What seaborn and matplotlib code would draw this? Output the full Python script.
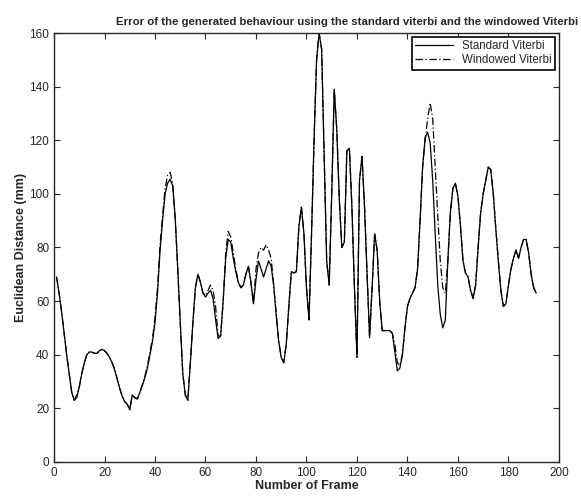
import numpy as np
import pandas as pd
import matplotlib
matplotlib.use("Agg")
import matplotlib.pyplot as plt
import seaborn as sns

# per-frame error (mm)
standard = [
    69, 63, 56, 48, 40, 33, 26, 23, 24, 28,
    33, 37, 40, 41, 41, 40.5, 40.5, 41.5, 42, 41.5,
    40.5, 39, 37, 34.5, 31, 27.5, 24.5, 22.5, 21.5, 19.5,
    25, 24, 23.5, 26, 28.5, 31.5, 35, 40, 45, 52,
    63, 79, 90, 100, 104, 105.5, 103, 91, 72, 52,
    33, 25, 23, 37, 52, 65, 70, 67, 63, 61.5,
    63, 64, 61, 53, 46, 47, 60, 76, 83, 82,
    76, 71, 67, 65, 66, 70, 73, 67, 59, 68,
    75, 72, 69, 72, 75, 73, 66, 55, 45, 39,
    37, 44, 58, 71, 70.5, 71, 88, 95, 85, 65,
    53, 85, 120, 150, 160, 154, 115, 75, 66, 100,
    139, 124, 98, 80, 82, 116, 117, 95, 65, 39,
    105, 114, 95, 70, 47, 65, 85, 79, 60, 49,
    49, 49, 49, 48, 41, 34, 35, 40, 50, 58,
    61, 63, 65, 72, 90, 110, 121, 123, 119, 105,
    85, 66, 55, 50, 53, 75, 93, 102, 104, 99,
    88, 75, 70.5, 69, 64, 61, 66, 80, 93, 100,
    105, 110, 109, 100, 87, 75, 64, 58, 59, 66,
    72, 76, 79, 76, 80, 83, 83, 78, 70, 65,
    63,
]
windowed = [
    69, 63, 56, 48, 40, 33, 26, 23, 25, 28,
    33, 37, 40, 41, 41, 40.5, 40.5, 41.5, 42, 41.5,
    40.5, 39, 37, 34.5, 31, 27.5, 24.5, 22.5, 21.5, 19.5,
    25, 24, 23.5, 26, 29, 32, 36, 41, 46, 54,
    65, 81, 92, 102, 107, 108, 104, 91, 72, 52,
    33, 25, 23, 37, 52, 65, 70, 67, 63, 62,
    64, 66, 64, 58, 47, 47, 60, 78, 86, 84,
    78, 72, 67, 65, 66, 70, 73, 67, 59, 72,
    78, 80, 79, 81, 79, 76, 66, 55, 45, 39,
    37, 44, 58, 71, 70.5, 71, 88, 95, 85, 65,
    53, 85, 120, 150, 160, 154, 115, 75, 66, 100,
    139, 124, 98, 80, 82, 116, 117, 95, 65, 39,
    105, 114, 95, 70, 46, 65, 85, 79, 60, 49,
    49, 49, 49, 48, 44, 37, 36, 40, 50, 58,
    61, 63, 65, 72, 90, 110, 120, 128, 134, 128,
    110, 92, 75, 65, 63, 75, 93, 102, 104, 99,
    88, 75, 70.5, 69, 64, 61, 66, 80, 93, 100,
    105, 110, 109, 100, 87, 75, 64, 58, 59, 66,
    72, 76, 79, 76, 80, 83, 83, 78, 70, 65,
    63,
]
frames = np.arange(1, len(standard) + 1)
series_names = ["Standard Viterbi", "Windowed Viterbi"]

df = pd.DataFrame({
    "frame": np.concatenate([frames, frames]),
    "error": standard + windowed,
    "method": [series_names[0]] * len(standard) + [series_names[1]] * len(windowed),
})

sns.set_style("ticks")
plt.rcParams["font.family"] = ["Liberation Sans", "DejaVu Sans"]

fig = plt.figure(figsize=(5.81, 5.01), dpi=100)
ax = fig.add_axes([0.093, 0.078, 0.869, 0.856])

sns.lineplot(data=df, x="frame", y="error", hue="method", style="method",
             palette=["black", "black"], dashes=[(None, None), (6, 2, 1, 2)],
             linewidth=0.9, ax=ax)

ax.set_xlim(0, 200)
ax.set_ylim(0, 160)
ax.set_xticks(range(0, 201, 20))
ax.set_yticks(range(0, 161, 20))
ax.tick_params(direction="in", top=True, right=True, labelsize=8.5, length=4, width=0.8)
for s in ax.spines.values():
    s.set_visible(True)
    s.set_linewidth(1.0)

ax.set_title("Error of the generated behaviour using the standard viterbi and the windowed Viterbi",
             fontsize=8.2, fontweight="bold", pad=6, x=0.58)
ax.set_xlabel("Number of Frame", fontsize=9, fontweight="bold", labelpad=1)
ax.set_ylabel("Euclidean Distance (mm)", fontsize=9, fontweight="bold", labelpad=2)

leg = ax.legend(loc="upper right", fontsize=8.3, frameon=True, fancybox=False,
                handlelength=3.3, borderpad=0.3, labelspacing=0.2, borderaxespad=0.3)
leg.get_frame().set_edgecolor("black")
leg.get_frame().set_linewidth(1.2)
leg.get_frame().set_alpha(1)

fig.savefig("out.png", dpi=100)
